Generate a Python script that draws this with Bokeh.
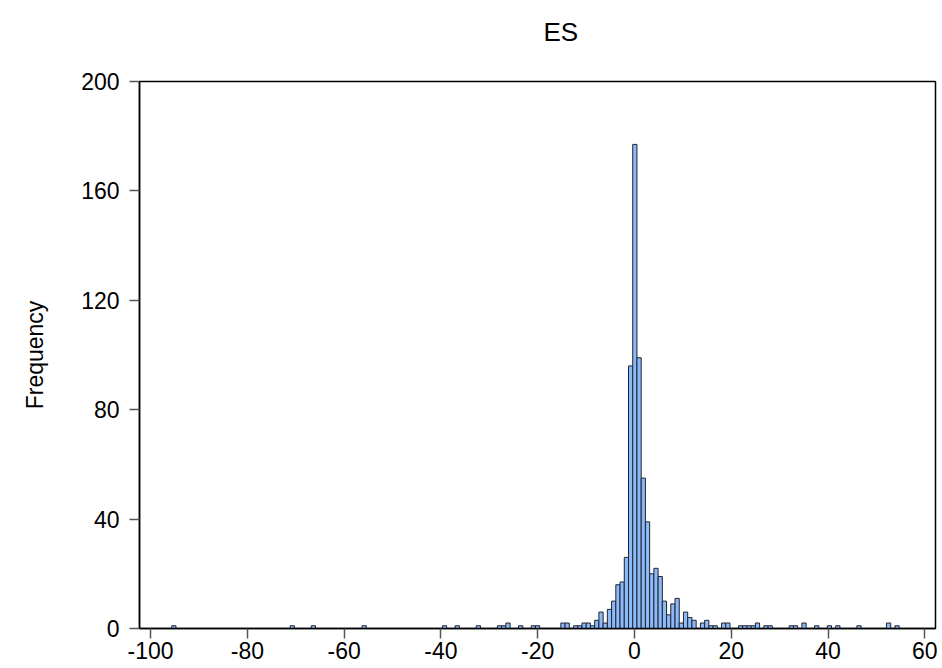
from bokeh.plotting import figure
from bokeh.models import FixedTicker, Range1d, ColumnDataSource, Title
from bokeh.embed import file_html
from bokeh.resources import INLINE

title_text = "ES"
y_label = "Frequency"
x_ticks = [-100, -80, -60, -40, -20, 0, 20, 40, 60]
y_ticks = [0, 40, 80, 120, 160, 200]

bin_origin = -0.37
bin_width = 0.874
bin_index = [-109, -81, -76, -64, -45, -42, -37, -32, -31, -30, -27, -24, -23,
             -17, -16, -14, -13, -12, -11, -10, -9, -8, -7, -6, -5, -4, -3, -2, -1,
             0, 1, 2, 3, 4, 5, 6, 7, 8, 9, 10, 11, 12, 13, 14, 16, 17, 18, 19,
             21, 22, 25, 26, 27, 28, 29, 31, 32, 37, 38, 40, 43, 46, 48, 53, 60, 62]
counts = [1, 1, 1, 1, 1, 1, 1, 1, 1, 2, 1, 1, 1,
          2, 2, 1, 1, 2, 2, 1, 3, 6, 2, 7, 10, 16, 17, 26, 96,
          177, 99, 55, 39, 20, 22, 19, 10, 5, 9, 11, 2, 6, 4, 3, 2, 3, 1, 1,
          2, 2, 1, 1, 1, 1, 2, 1, 1, 1, 1, 2, 1, 1, 1, 1, 2, 1]

left = [bin_origin + k * bin_width for k in bin_index]
right = [l + bin_width for l in left]
src = ColumnDataSource(dict(left=left, right=right, top=counts, bottom=[0] * len(counts)))

p = figure(width=938, height=666, output_backend="svg", toolbar_location=None,
           x_range=Range1d(-102.3, 62.2), y_range=Range1d(0, 200),
           min_border_left=139, min_border_right=3, min_border_top=81, min_border_bottom=38)

p.quad(left="left", right="right", top="top", bottom="bottom", source=src,
       fill_color="#8CB9F8", line_color="#1F2430", line_width=1)

p.title.text = ""
spacer = Title(text=" ", text_font_size="1px", standoff=15)
p.add_layout(spacer, "above")
main_title = Title(text=title_text, align="left", offset=404, standoff=30,
                   vertical_align="top", text_font="Liberation Sans",
                   text_font_size="26px", text_font_style="normal", text_color="black")
p.add_layout(main_title, "above")

p.grid.visible = False
p.outline_line_color = "black"
p.outline_line_width = 1.5
p.background_fill_color = "white"
p.border_fill_color = "white"

for ax in (p.xaxis[0], p.yaxis[0]):
    ax.axis_line_color = "black"
    ax.axis_line_width = 1.5
    ax.major_tick_out = 10
    ax.major_tick_in = 0
    ax.minor_tick_line_color = None
    ax.major_tick_line_color = "#555555"
    ax.major_tick_line_width = 1.5
    ax.major_label_text_font = "Liberation Sans"
    ax.major_label_text_font_size = "23px"
    ax.major_label_text_color = "black"

p.xaxis[0].ticker = FixedTicker(ticks=x_ticks)
p.xaxis[0].major_label_overrides = {t: str(t) for t in x_ticks}
p.yaxis[0].ticker = FixedTicker(ticks=y_ticks)
p.xaxis[0].major_label_standoff = 3
p.yaxis[0].major_label_standoff = 10
p.yaxis[0].axis_label = y_label
p.yaxis[0].axis_label_text_font = "Liberation Sans"
p.yaxis[0].axis_label_text_font_size = "23px"
p.yaxis[0].axis_label_text_font_style = "normal"
p.yaxis[0].axis_label_text_color = "black"
p.yaxis[0].axis_label_standoff = 30

open("out.html", "w").write(file_html(p, INLINE))
